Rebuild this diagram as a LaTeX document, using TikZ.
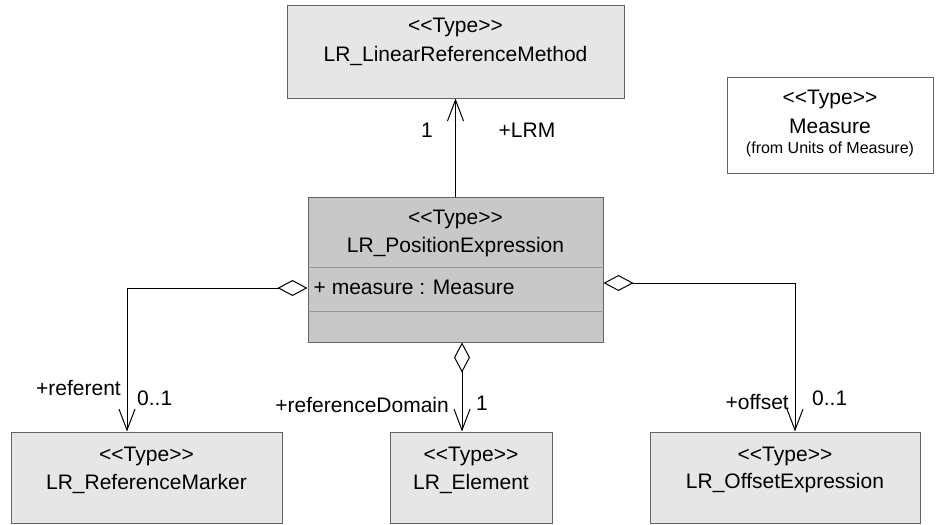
\documentclass[tikz,border=0pt]{standalone}
\usepackage{fontspec}
\setmainfont{Liberation Sans}[Ligatures=TeXOff]
\usetikzlibrary{arrows.meta}
\definecolor{boxfill}{RGB}{230,230,230}
\definecolor{pefill}{RGB}{200,200,200}
\definecolor{boxline}{RGB}{100,100,100}
\definecolor{splitline}{RGB}{150,150,150}

\begin{document}
\begin{tikzpicture}[x=1pt,y=-1pt,
    txt/.style={inner sep=0pt,font=\fontsize{21}{25}\selectfont},
    small/.style={inner sep=0pt,font=\fontsize{16}{19}\selectfont},
    typebox/.style={draw=boxline,fill=boxfill,line width=1pt,inner sep=0pt},
    assoc/.style={line width=1pt,-{Straight Barb[length=21pt,width=16pt,line width=1pt]}},
    aggr/.style={line width=1pt,{Diamond[open,length=30pt,width=16pt,line width=1pt]}-{Straight Barb[length=21pt,width=16pt,line width=1pt]}}]
    \useasboundingbox (0,0) rectangle (938,525);
    % classes
    \node[typebox,minimum width=337pt,minimum height=93pt] (lrm) at (455.5,51.5) {};
    \node[typebox,fill=pefill,minimum width=295pt,minimum height=145pt] (pe) at (455.5,269.5) {};
    \node[typebox,fill=white,minimum width=206pt,minimum height=96pt] (mea) at (830,125) {};
    \node[typebox,minimum width=271pt,minimum height=91pt] (rm) at (146.5,477.5) {};
    \node[typebox,minimum width=162pt,minimum height=91pt] (el) at (471,477.5) {};
    \node[typebox,minimum width=270pt,minimum height=91pt] (oe) at (785,477.5) {};
    \draw[splitline,line width=1pt] ([yshift=-71pt]pe.north west) -- ([yshift=-71pt]pe.north east);
    \draw[splitline,line width=1pt] ([yshift=-115pt]pe.north west) -- ([yshift=-115pt]pe.north east);
    % texts
    \node[txt] (lrmst) at ([yshift=-23pt]lrm.north) {<<Type>>};
    \node[txt] (lrmname) at ([yshift=-51pt]lrm.north) {LR\_LinearReferenceMethod};
    \node[txt] (pest) at ([yshift=-23pt]pe.north) {<<Type>>};
    \node[txt] (pename) at ([yshift=-51pt]pe.north) {LR\_PositionExpression};
    \node[txt,anchor=west] (peattr) at ([xshift=6pt,yshift=-91pt]pe.north west) {+ measure : Measure};
    \node[txt] (meast) at ([yshift=-23pt]mea.north) {<<Type>>};
    \node[txt] (meaname) at ([yshift=-50pt]mea.north) {Measure};
    \node[small] (meafrom) at ([yshift=-73pt]mea.north) {(from Units of Measure)};
    \node[txt] (rmst) at ([yshift=-25pt]rm.north) {<<Type>>};
    \node[txt] (rmname) at ([yshift=-52pt]rm.north) {LR\_ReferenceMarker};
    \node[txt] (elst) at ([yshift=-25pt]el.north) {<<Type>>};
    \node[txt] (elname) at ([yshift=-52pt]el.north) {LR\_Element};
    \node[txt] (oest) at ([yshift=-25pt]oe.north) {<<Type>>};
    \node[txt] (oename) at ([yshift=-52pt]oe.north) {LR\_OffsetExpression};
    % connectors
    \draw[assoc] (pe.north) -- (lrm.south);
    \draw[aggr] ([yshift=-18.5pt]pe.west) -| ([xshift=-19.5pt]rm.north);
    \draw[aggr] ([xshift=6.5pt]pe.south) -- ([xshift=-9pt]el.north);
    \draw[aggr] ([yshift=-13.5pt]pe.east) -| ([xshift=10pt]oe.north);
    % roles and multiplicities
    \node[txt] (lrmmult) at (427,130) {1};
    \node[txt] (lrmrole) at (527,130) {+LRM};
    \node[txt,anchor=east] (rmrole) at (121,388) {+referent};
    \node[txt,anchor=west] (rmmult) at (137,398) {0..1};
    \node[txt,anchor=east] (elrole) at (449,405) {+referenceDomain};
    \node[txt] (elmult) at (482,403) {1};
    \node[txt,anchor=east] (oerole) at (789,402) {+offset};
    \node[txt,anchor=west] (oemult) at (812,398) {0..1};
\end{tikzpicture}
\end{document}
